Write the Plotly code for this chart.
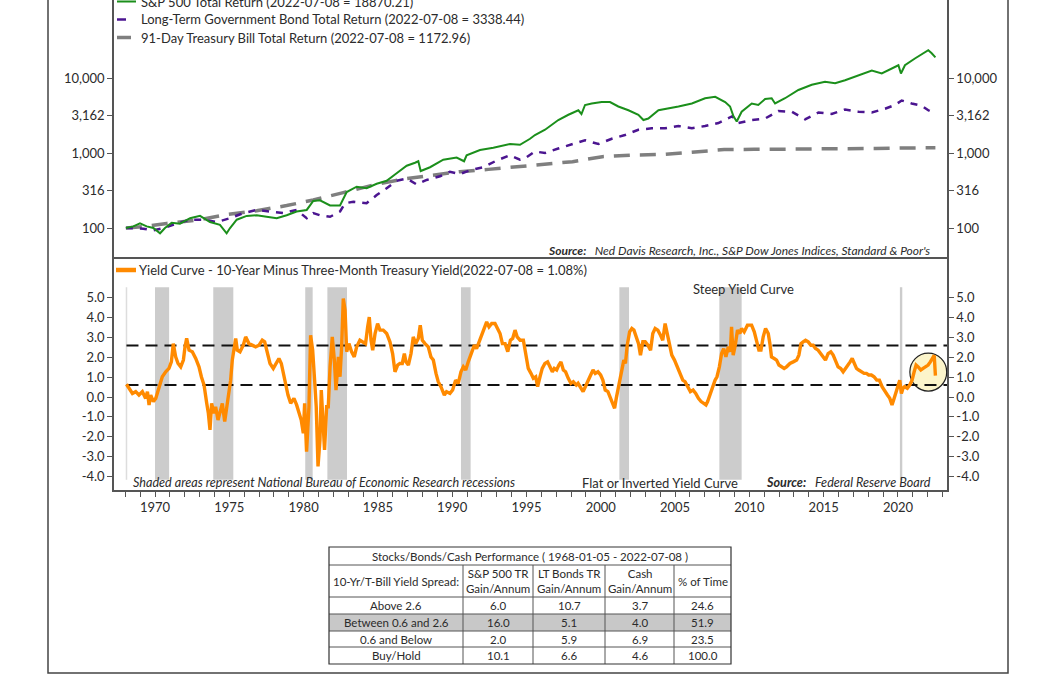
import plotly.graph_objects as go

W, H = 1056, 675
def fx(x):
    return x / W
def fy(y):
    return 1 - y / H

# ---------------- data ----------------
sp_years = [1968.04, 1968.54, 1968.99, 1969.44, 1969.89, 1970.34, 1970.67, 1971.12, 1971.68, 1972.36,
            1973.03, 1973.70, 1974.37, 1974.82, 1975.05, 1975.50, 1976.17, 1976.84, 1977.51, 1978.19,
            1978.86, 1979.53, 1980.21, 1980.65, 1981.10, 1981.78, 1982.45, 1982.90, 1983.57, 1984.24,
            1984.92, 1985.59, 1986.26, 1986.94, 1987.50, 1987.72, 1987.88, 1988.51, 1989.40, 1990.30,
            1990.80, 1990.97, 1991.87, 1992.77, 1993.89, 1994.56, 1995.24, 1995.57, 1996.25, 1997.14,
            1997.82, 1998.49, 1998.70, 1998.94, 1999.39, 2000.06, 2000.62, 2001.18, 2001.86, 2002.53,
            2002.87, 2003.20, 2003.88, 2004.55, 2005.23, 2006.13, 2007.02, 2007.70, 2008.37, 2008.70,
            2008.93, 2009.15, 2009.48, 2010.16, 2010.60, 2011.06, 2011.50, 2011.73, 2012.40, 2013.30,
            2014.20, 2015.09, 2015.77, 2016.44, 2017.34, 2018.24, 2018.91, 2019.58, 2020.03, 2020.20,
            2020.47, 2021.14, 2021.82, 2022.04, 2022.27, 2022.52]
sp_vals = [100, 105, 115, 105, 100, 85, 100, 117, 114, 135,
           145, 120, 110, 85, 100, 129, 145, 148, 141, 135,
           148, 166, 174, 229, 234, 200, 200, 302, 355, 339,
           389, 427, 537, 676, 741, 776, 575, 646, 813, 871,
           776, 933, 1096, 1175, 1318, 1288, 1549, 1738, 2042, 2754,
           3236, 3715, 3311, 4365, 4571, 4786, 4786, 4169, 3715, 3236,
           2754, 2884, 3715, 3890, 4169, 4571, 5370, 5623, 4786, 4169,
           3090, 2630, 3548, 4571, 4365, 5248, 5370, 4571, 5370, 6918,
           8128, 8913, 8511, 9333, 10965, 12589, 11482, 13183, 14791, 11482,
           14791, 18197, 22387, 23442, 21380, 18870.21]

bd_years = [1968.04, 1969.21, 1969.89, 1970.60, 1971.46, 1972.36, 1973.25, 1974.15, 1975.05, 1975.94,
            1976.84, 1977.74, 1978.63, 1979.53, 1980.21, 1980.65, 1981.10, 1981.78, 1982.45, 1982.79,
            1983.35, 1984.24, 1984.92, 1985.59, 1986.26, 1986.94, 1987.61, 1988.28, 1989.18, 1989.85,
            1990.52, 1991.20, 1992.10, 1992.99, 1993.89, 1994.56, 1994.90, 1995.57, 1996.25, 1997.14,
            1998.04, 1998.94, 1999.84, 2000.74, 2001.63, 2002.53, 2003.43, 2004.33, 2005.23, 2006.13,
            2007.02, 2007.92, 2008.85, 2009.26, 2010.16, 2011.06, 2011.95, 2012.85, 2013.75, 2014.65,
            2015.54, 2016.44, 2017.34, 2018.24, 2019.13, 2019.80, 2020.25, 2020.92, 2021.60, 2022.04,
            2022.52]
bd_vals = [100, 98, 93, 100, 115, 129, 129, 120, 135, 158,
           174, 166, 158, 174, 135, 158, 148, 141, 166, 214,
           224, 214, 275, 339, 427, 457, 380, 437, 490, 562,
           525, 589, 646, 794, 933, 813, 851, 1047, 1000, 1148,
           1318, 1479, 1318, 1549, 1738, 2042, 2138, 2138, 2291, 2138,
           2291, 2512, 3090, 2512, 2754, 2884, 3631, 3548, 2818, 3467,
           3311, 3802, 3548, 3467, 3890, 4365, 5012, 4571, 4266, 3715,
           3338.44]

tb_years = [1968.04, 1969.21, 1970.79, 1972.92, 1974.82, 1976.84, 1978.86, 1980.65, 1982.67, 1984.69,
            1986.60, 1988.73, 1990.52, 1992.43, 1994.56, 1996.00, 1998.10, 2000.10, 2002.10, 2004.10,
            2006.20, 2008.30, 2010.30, 2012.30, 2014.40, 2016.40, 2018.50, 2020.50, 2022.52]
tb_vals = [100, 104, 115, 128, 151, 170, 199, 236, 296, 374,
           446, 510, 564, 605, 658, 713, 766, 893, 940, 955,
           1019, 1110, 1118, 1120, 1122, 1130, 1150, 1168, 1172.96]

yc_years = [1968.08, 1968.25, 1968.48, 1968.70, 1968.92, 1969.15, 1969.37, 1969.49, 1969.60, 1969.71,
            1969.89, 1970.05, 1970.27, 1970.49, 1970.72, 1970.94, 1971.10, 1971.23, 1971.39, 1971.55,
            1971.73, 1971.91, 1972.02, 1972.13, 1972.29, 1972.51, 1972.74, 1972.96, 1973.12, 1973.30,
            1973.48, 1973.59, 1973.70, 1973.81, 1973.97, 1974.08, 1974.24, 1974.42, 1974.53, 1974.69,
            1974.82, 1974.98, 1975.09, 1975.20, 1975.32, 1975.43, 1975.54, 1975.72, 1975.94, 1976.10,
            1976.32, 1976.55, 1976.77, 1977.00, 1977.22, 1977.38, 1977.56, 1977.74, 1977.96, 1978.18,
            1978.34, 1978.50, 1978.63, 1978.79, 1978.95, 1979.13, 1979.35, 1979.53, 1979.69, 1979.84,
            1979.98, 1980.07, 1980.20, 1980.36, 1980.47, 1980.61, 1980.74, 1980.85, 1980.97, 1981.10,
            1981.19, 1981.32, 1981.41, 1981.55, 1981.66, 1981.78, 1981.93, 1982.07, 1982.18, 1982.34,
            1982.45, 1982.56, 1982.67, 1982.79, 1982.90, 1983.05, 1983.23, 1983.41, 1983.57, 1983.79,
            1984.02, 1984.17, 1984.31, 1984.42, 1984.54, 1984.65, 1984.81, 1984.98, 1985.14, 1985.36,
            1985.59, 1985.81, 1985.99, 1986.15, 1986.33, 1986.48, 1986.64, 1986.78, 1986.89, 1987.05,
            1987.23, 1987.38, 1987.54, 1987.72, 1987.85, 1987.99, 1988.17, 1988.39, 1988.57, 1988.73,
            1988.91, 1989.06, 1989.24, 1989.47, 1989.62, 1989.85, 1990.03, 1990.23, 1990.41, 1990.59,
            1990.75, 1990.91, 1991.08, 1991.31, 1991.49, 1991.64, 1991.80, 1991.98, 1992.16, 1992.32,
            1992.48, 1992.66, 1992.88, 1993.06, 1993.22, 1993.38, 1993.56, 1993.74, 1993.92, 1994.07,
            1994.23, 1994.37, 1994.57, 1994.79, 1994.97, 1995.12, 1995.30, 1995.46, 1995.62, 1995.75,
            1995.91, 1996.06, 1996.24, 1996.42, 1996.58, 1996.74, 1996.87, 1997.03, 1997.18, 1997.32,
            1997.48, 1997.63, 1997.81, 1997.99, 1998.15, 1998.35, 1998.47, 1998.65, 1998.81, 1998.96,
            1999.14, 1999.32, 1999.48, 1999.63, 1999.81, 1999.99, 2000.14, 2000.30, 2000.48, 2000.66,
            2000.81, 2000.93, 2001.04, 2001.15, 2001.28, 2001.42, 2001.55, 2001.66, 2001.78, 2001.94,
            2002.09, 2002.23, 2002.38, 2002.54, 2002.67, 2002.83, 2002.99, 2003.17, 2003.35, 2003.50,
            2003.66, 2003.84, 2004.02, 2004.17, 2004.33, 2004.46, 2004.62, 2004.78, 2004.96, 2005.14,
            2005.32, 2005.52, 2005.67, 2005.85, 2006.03, 2006.21, 2006.39, 2006.57, 2006.75, 2006.93,
            2007.08, 2007.19, 2007.37, 2007.53, 2007.69, 2007.82, 2007.98, 2008.13, 2008.27, 2008.42,
            2008.58, 2008.72, 2008.80, 2008.91, 2009.05, 2009.20, 2009.36, 2009.47, 2009.65, 2009.87,
            2010.15, 2010.33, 2010.48, 2010.64, 2010.78, 2010.93, 2011.09, 2011.27, 2011.38, 2011.49,
            2011.67, 2011.83, 2011.99, 2012.16, 2012.34, 2012.50, 2012.73, 2012.95, 2013.18, 2013.33,
            2013.47, 2013.62, 2013.78, 2013.96, 2014.14, 2014.29, 2014.45, 2014.63, 2014.81, 2014.97,
            2015.12, 2015.30, 2015.48, 2015.64, 2015.80, 2015.97, 2016.15, 2016.31, 2016.47, 2016.65,
            2016.78, 2016.92, 2017.05, 2017.21, 2017.36, 2017.54, 2017.72, 2017.88, 2018.03, 2018.21,
            2018.39, 2018.57, 2018.75, 2018.93, 2019.11, 2019.29, 2019.45, 2019.60, 2019.74, 2019.89,
            2020.01, 2020.12, 2020.23, 2020.34, 2020.45, 2020.63, 2020.79, 2020.95, 2021.09, 2021.22,
            2021.36, 2021.54, 2021.69, 2021.85, 2022.03, 2022.18, 2022.30, 2022.44, 2022.52]
yc_vals = [0.64, 0.43, 0.18, 0.27, 0.10, 0.27, -0.07, 0.27, -0.40, 0.10,
           -0.23, -0.07, 0.52, 1.02, 1.27, 1.44, 1.77, 2.69, 2.02, 1.69,
           1.52, 1.86, 2.53, 2.95, 2.36, 2.28, 1.94, 1.52, 1.02, 0.60,
           -0.32, -0.82, -1.66, -0.32, -0.82, -0.49, -1.16, -0.66, -0.32, -1.24,
           -0.49, 0.52, 0.85, 1.86, 2.61, 2.95, 2.36, 2.28, 2.61, 3.03,
           2.69, 2.61, 2.53, 2.61, 2.86, 2.78, 2.28, 1.69, 1.44, 1.77,
           1.94, 1.69, 1.19, 0.52, 0.10, -0.32, -0.07, -0.40, -0.82, -1.16,
           -1.83, -0.32, -2.75, -0.49, 3.11, 2.36, 0.85, -0.49, -3.50, -2.16,
           0.35, -1.16, -2.66, -0.49, -0.49, 1.52, 3.03, 1.86, 0.35, 2.02,
           1.02, 2.53, 4.96, 4.37, 2.28, 2.69, 2.28, 2.02, 2.53, 2.86,
           2.78, 2.69, 3.53, 4.03, 2.86, 2.36, 3.20, 3.70, 3.37, 3.37,
           3.20, 2.78, 2.19, 1.27, 1.61, 1.69, 1.69, 2.19, 1.77, 1.61,
           2.19, 3.03, 2.69, 2.95, 3.62, 2.86, 2.69, 2.53, 2.02, 1.86,
           1.19, 0.77, 0.52, 0.10, 0.27, 0.18, 0.35, 0.85, 0.69, 1.27,
           1.52, 1.36, 1.77, 2.19, 2.61, 2.44, 2.78, 3.11, 3.53, 3.78,
           3.53, 3.70, 3.70, 3.45, 3.20, 2.69, 2.69, 2.28, 2.86, 2.95,
           3.37, 3.03, 2.86, 2.86, 2.02, 1.44, 1.19, 0.94, 1.02, 0.52,
           1.02, 1.44, 1.69, 1.77, 1.52, 1.27, 1.44, 1.36, 1.61, 1.77,
           1.36, 1.27, 0.94, 0.69, 0.77, 0.60, 0.69, 0.44, 0.27, 0.52,
           0.77, 1.11, 1.36, 1.19, 1.27, 1.11, 0.85, 0.35, 0.27, -0.07,
           -0.40, -0.57, -0.07, 0.35, 0.85, 1.52, 1.86, 1.69, 2.61, 3.28,
           3.45, 3.37, 3.03, 2.69, 2.11, 2.78, 2.78, 2.61, 2.36, 3.20,
           3.45, 3.37, 3.11, 2.86, 3.70, 3.20, 2.53, 2.11, 1.86, 1.52,
           1.19, 0.85, 0.77, 0.52, 0.27, 0.35, 0.18, -0.07, -0.23, -0.32,
           -0.40, -0.23, 0.18, 0.52, 0.85, 1.02, 1.52, 2.19, 2.44, 2.02,
           2.53, 2.28, 3.53, 2.11, 2.61, 3.37, 3.20, 3.45, 3.28, 3.62,
           3.62, 3.28, 2.86, 2.36, 2.36, 3.03, 3.45, 3.20, 2.69, 2.02,
           1.94, 1.86, 1.61, 1.52, 1.44, 1.52, 1.69, 1.77, 1.86, 2.11,
           2.69, 2.78, 2.86, 2.78, 2.61, 2.61, 2.44, 2.36, 2.19, 2.02,
           1.86, 2.19, 2.28, 2.11, 1.86, 1.52, 1.44, 1.27, 1.44, 1.61,
           1.77, 1.94, 1.69, 1.44, 1.36, 1.27, 1.19, 1.19, 1.11, 1.11,
           1.02, 0.85, 0.85, 0.52, 0.27, 0.10, -0.07, -0.40, -0.07, 0.27,
           0.52, 0.85, 0.18, 0.44, 0.52, 0.44, 0.60, 0.85, 1.27, 1.61,
           1.52, 1.36, 1.44, 1.52, 1.61, 1.77, 1.90, 2.10, 1.08]

rec_start = [1970.00, 1973.92, 1980.11, 1981.60, 1990.59, 2001.25, 2007.98, 2020.13]
rec_end = [1970.95, 1975.27, 1980.61, 1982.92, 1991.24, 2001.90, 2009.48, 2020.29]

thresholds = [2.6, 0.6]

top_tickvals = [100, 316.2, 1000, 3162.3, 10000]
top_ticktext = ["100", "316", "1,000", "3,162", "10,000"]
bot_tickvals = [-4, -3, -2, -1, 0, 1, 2, 3, 4, 5]
bot_ticktext = ["-4.0", "-3.0", "-2.0", "-1.0", "0.0", "1.0", "2.0", "3.0", "4.0", "5.0"]

tbl_title = "Stocks/Bonds/Cash Performance ( 1968-01-05 - 2022-07-08 )"
tbl_headers = ["10-Yr/T-Bill Yield Spread:", "S&P 500 TR<br>Gain/Annum", "LT Bonds TR<br>Gain/Annum",
               "Cash<br>Gain/Annum", "% of Time"]
tbl_rows = ["Above 2.6", "Between 0.6 and 2.6", "0.6 and Below", "Buy/Hold"]
tbl_sp = [6.0, 16.0, 2.0, 10.1]
tbl_lt = [10.7, 5.1, 5.9, 6.6]
tbl_cash = [3.7, 4.0, 6.9, 4.6]
tbl_time = [24.6, 51.9, 23.5, 100.0]

# ---------------- styling ----------------
FONT = "Lato"
TXT = "#2b2b2b"
AX = "#555555"
GREEN = "#1b8f1b"
PURPLE = "#4b1590"
GRAY = "#7f7f7f"
ORANGE = "#ff8a00"

XR = [1967.24, 2023.30]
xdom = [fx(114), fx(947)]
top_dom = [fy(257), 1.0]
bot_dom = [fy(490), fy(257)]

fig = go.Figure()

# top panel
fig.add_trace(go.Scatter(x=tb_years, y=tb_vals, mode="lines", xaxis="x", yaxis="y",
                         line=dict(color=GRAY, width=3.5, dash="16px,10px"), hoverinfo="skip"))
fig.add_trace(go.Scatter(x=bd_years, y=bd_vals, mode="lines", xaxis="x", yaxis="y",
                         line=dict(color=PURPLE, width=2.5, dash="7px,7px"), hoverinfo="skip"))
fig.add_trace(go.Scatter(x=sp_years, y=sp_vals, mode="lines", xaxis="x", yaxis="y",
                         line=dict(color=GREEN, width=2), hoverinfo="skip"))
fig.add_trace(go.Scatter(x=[sp_years[0]], y=[sp_vals[0]], mode="markers", xaxis="x", yaxis="y3",
                         marker=dict(opacity=0), hoverinfo="skip"))

# bottom panel
for t in thresholds:
    fig.add_trace(go.Scatter(x=[yc_years[0], XR[1]], y=[t, t], mode="lines", xaxis="x2", yaxis="y2",
                             line=dict(color="#111111", width=2, dash="12px,7px"), hoverinfo="skip"))
fig.add_trace(go.Scatter(x=yc_years, y=yc_vals, mode="lines", xaxis="x2", yaxis="y2",
                         line=dict(color=ORANGE, width=3.4), hoverinfo="skip"))
fig.add_trace(go.Scatter(x=[yc_years[0]], y=[yc_vals[0]], mode="markers", xaxis="x2", yaxis="y4",
                         marker=dict(opacity=0), hoverinfo="skip"))

tickfont = dict(family=FONT, size=13, color=TXT)
common_y = dict(showline=True, linecolor=AX, linewidth=1.5, ticks="outside", ticklen=5,
                tickcolor=AX, tickwidth=1, showgrid=False, zeroline=False, tickfont=tickfont)

shapes = []
for s, e in zip(rec_start, rec_end):
    shapes.append(dict(type="rect", xref="x2", yref="y2", x0=s, x1=e, y0=-4.17, y1=5.53,
                       fillcolor="#cccccc", line=dict(width=0), layer="below"))
shapes.append(dict(type="line", xref="x2", yref="y2", x0=yc_years[0], x1=yc_years[0], y0=-4.17, y1=5.53,
                   line=dict(color="#dddddd", width=1.5), layer="below"))
shapes.append(dict(type="circle", xref="x2", yref="y2", x0=2020.80, x1=2023.28, y0=0.30, y1=2.21,
                   fillcolor="#fcf5cb", line=dict(color="#222222", width=1.2), layer="below"))

# outer frame
shapes.append(dict(type="rect", xref="paper", yref="paper", x0=fx(48), x1=fx(1008), y0=fy(673), y1=fy(-10),
                   line=dict(color="#444444", width=1.5)))

# legend symbols
shapes.append(dict(type="line", xref="paper", yref="paper", x0=fx(117), x1=fx(136), y0=fy(1.5), y1=fy(1.5),
                   line=dict(color=GREEN, width=2)))
shapes.append(dict(type="line", xref="paper", yref="paper", x0=fx(117), x1=fx(126), y0=fy(19.5), y1=fy(19.5),
                   line=dict(color=PURPLE, width=2.5)))
shapes.append(dict(type="line", xref="paper", yref="paper", x0=fx(117), x1=fx(131), y0=fy(37.5), y1=fy(37.5),
                   line=dict(color=GRAY, width=3.5)))
shapes.append(dict(type="line", xref="paper", yref="paper", x0=fx(116), x1=fx(136), y0=fy(270), y1=fy(270),
                   line=dict(color=ORANGE, width=4.5)))

# table geometry
cx = [329, 463, 533, 605, 674, 731]
ry = [547, 565, 597, 614, 631, 647, 664]
shapes.append(dict(type="rect", xref="paper", yref="paper", x0=fx(cx[0]), x1=fx(cx[-1]), y0=fy(ry[4]), y1=fy(ry[3]),
                   fillcolor="#c8c8c8", line=dict(width=0)))
for yy in ry[1:-1]:
    shapes.append(dict(type="line", xref="paper", yref="paper", x0=fx(cx[0]), x1=fx(cx[-1]), y0=fy(yy), y1=fy(yy),
                       line=dict(color="#555555", width=1)))
for xx in cx[1:-1]:
    shapes.append(dict(type="line", xref="paper", yref="paper", x0=fx(xx), x1=fx(xx), y0=fy(ry[1]), y1=fy(ry[-1]),
                       line=dict(color="#555555", width=1)))
shapes.append(dict(type="rect", xref="paper", yref="paper", x0=fx(cx[0]), x1=fx(cx[-1]), y0=fy(ry[-1]), y1=fy(ry[0]),
                   line=dict(color="#333333", width=1.2)))

ann = []
def txt(x, y, s, size=13, xanchor="left", italic=False, color=TXT):
    ann.append(dict(x=fx(x), y=fy(y), xref="paper", yref="paper", text=s, showarrow=False,
                    xanchor=xanchor, yanchor="middle",
                    font=dict(family=FONT, size=size, color=color,
                              style="italic" if italic else "normal")))

txt(139, 1.5, f"S&P 500 Total Return (2022-07-08 = {sp_vals[-1]:.2f})")
txt(139, 19.5, f"Long-Term Government Bond Total Return (2022-07-08 = {bd_vals[-1]:.2f})")
txt(139, 37.5, f"91-Day Treasury Bill Total Return (2022-07-08 = {tb_vals[-1]:.2f})")
txt(137, 270, f"Yield Curve - 10-Year Minus Three-Month Treasury Yield(2022-07-08 = {yc_vals[-1]:.2f}%)")
txt(932, 250, "<b>Source:</b>\u00a0\u00a0\u00a0Ned Davis Research, Inc., S&P Dow Jones Indices, Standard & Poor's",
    size=12, xanchor="right", italic=True)
txt(743, 288.5, "Steep Yield Curve", size=13, xanchor="center")
txt(660, 483, "Flat or Inverted Yield Curve", size=13, xanchor="center")
txt(131, 483, "Shaded areas represent National Bureau of Economic Research recessions", size=12.6, italic=True)
txt(933, 483, "<b>Source:</b>\u00a0\u00a0\u00a0Federal Reserve Board", size=12.6, xanchor="right", italic=True)

# table texts
TS = 11.5
txt((cx[0] + cx[-1]) / 2, (ry[0] + ry[1]) / 2, tbl_title, size=TS, xanchor="center")
for i, h in enumerate(tbl_headers):
    txt((cx[i] + cx[i + 1]) / 2, (ry[1] + ry[2]) / 2, h, size=TS, xanchor="center")
for r in range(4):
    yc = (ry[2 + r] + ry[3 + r]) / 2
    vals = [tbl_rows[r], f"{tbl_sp[r]:.1f}", f"{tbl_lt[r]:.1f}", f"{tbl_cash[r]:.1f}", f"{tbl_time[r]:.1f}"]
    for i, v in enumerate(vals):
        txt((cx[i] + cx[i + 1]) / 2, yc, v, size=TS, xanchor="center")

fig.update_layout(
    width=W, height=H, margin=dict(l=0, r=0, t=0, b=0),
    paper_bgcolor="white", plot_bgcolor="white", showlegend=False,
    font=dict(family=FONT, color=TXT),
    xaxis=dict(domain=xdom, range=XR, anchor="y", showline=True, linecolor=AX, linewidth=1.5,
               showticklabels=False, ticks="", showgrid=False, zeroline=False),
    yaxis=dict(domain=top_dom, type="log", range=[1.6133, 5.04], anchor="x",
               tickvals=top_tickvals, ticktext=top_ticktext, **common_y),
    yaxis3=dict(overlaying="y", side="right", type="log", range=[1.6133, 5.04], anchor="x",
                tickvals=top_tickvals, ticktext=top_ticktext, **common_y),
    xaxis2=dict(domain=xdom, range=XR, anchor="y2", showline=True, linecolor=AX, linewidth=1.5,
                ticks="outside", ticklen=5, tickcolor=AX, tick0=1970, dtick=5, showgrid=False,
                zeroline=False, tickfont=tickfont,
                minor=dict(dtick=1, tick0=1970, ticks="outside", ticklen=5, tickcolor=AX, showgrid=False)),
    yaxis2=dict(domain=bot_dom, range=[-4.685, 7.053], anchor="x2",
                tickvals=bot_tickvals, ticktext=bot_ticktext, **common_y),
    yaxis4=dict(overlaying="y2", side="right", range=[-4.685, 7.053], anchor="x2",
                tickvals=bot_tickvals, ticktext=bot_ticktext, **common_y),
    shapes=shapes, annotations=ann,
)

fig.write_html("out.html")
